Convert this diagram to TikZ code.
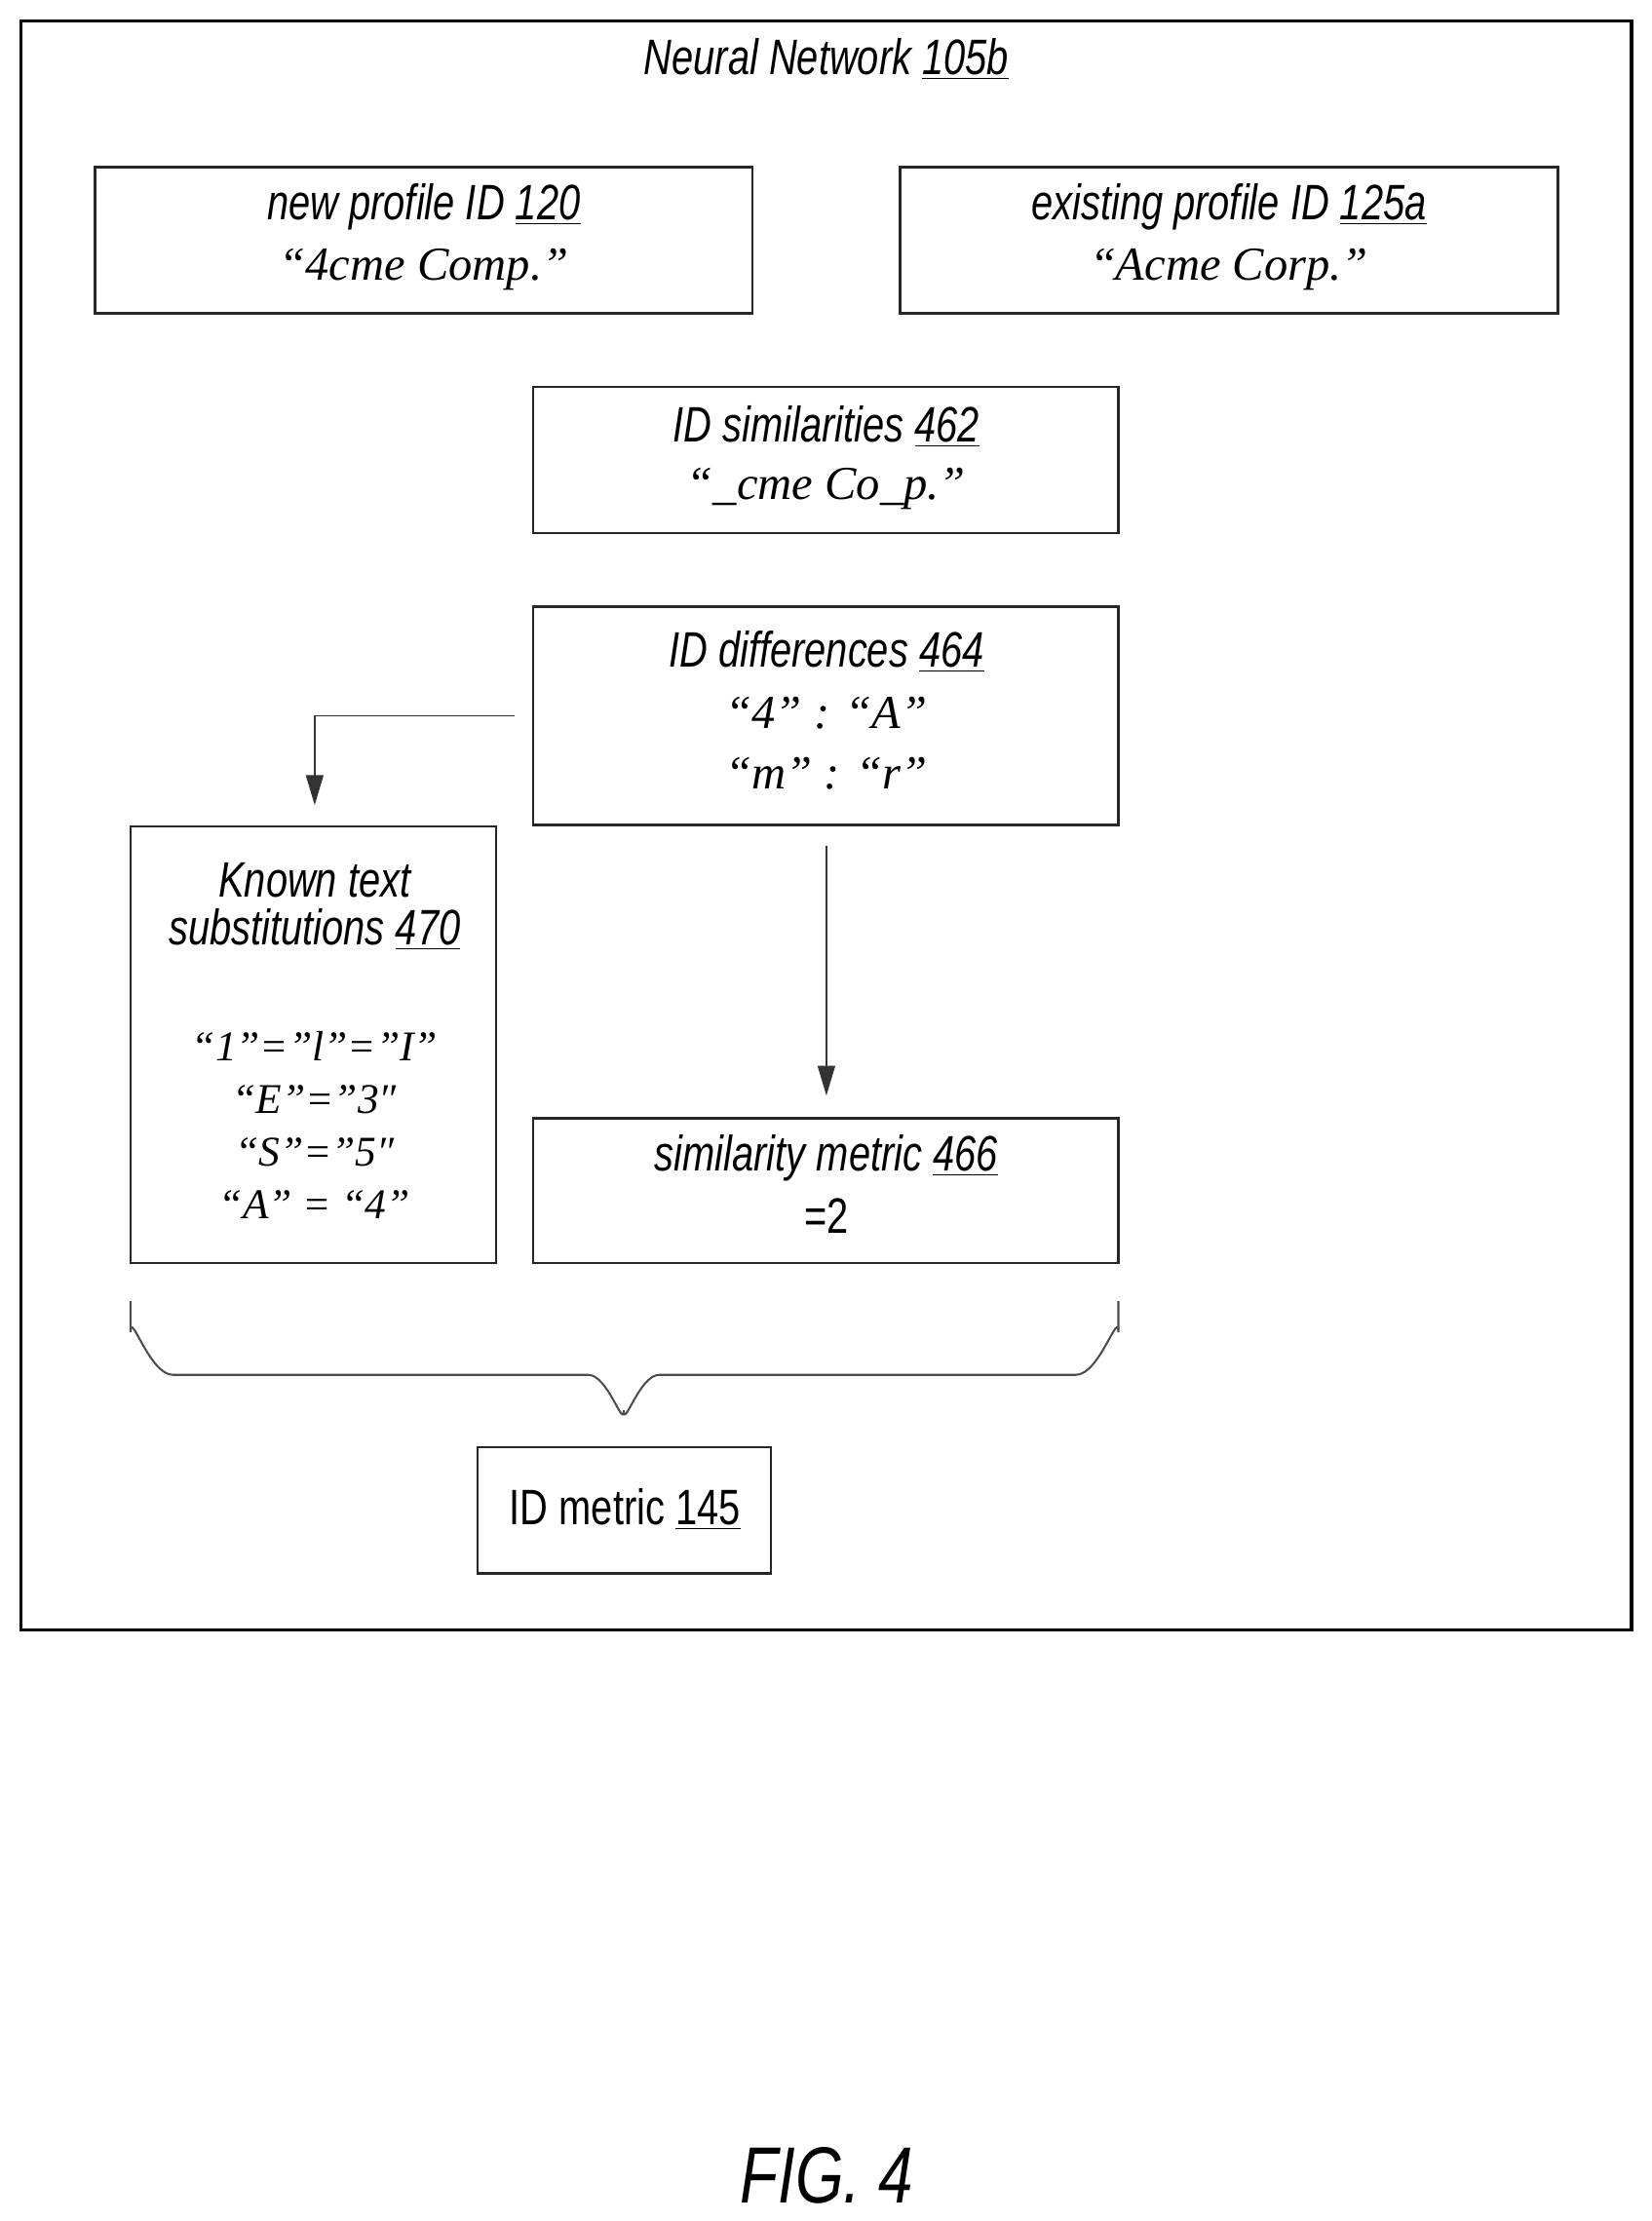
\documentclass[tikz,border=0pt]{standalone}
\usepackage{fontspec}
\setmainfont{Liberation Serif}
\newfontfamily\nar[FakeStretch=0.78]{Liberation Sans}
\usetikzlibrary{arrows.meta}
\begin{document}
\begin{tikzpicture}[x=0.02cm,y=-0.02cm,
  box/.style={draw=black!85,line width=0.9pt},
  lab/.style={font=\nar\fontsize{20}{24}\selectfont\itshape,align=center},
  ser/.style={font=\fontsize{19}{22}\selectfont\itshape,align=center},
  sub/.style={font=\fontsize{17}{20}\selectfont\itshape,align=center},
  arr/.style={draw=black!80,line width=0.7pt,-{Triangle[length=12pt,width=7pt]}}]
\useasboundingbox (0,0) rectangle (1165,1567);
\draw[line width=1.3pt] (15,15) rectangle (1151,1150);
\node[lab] (title) at (583,42) {Neural Network \underline{105b}};
\draw[box] (67,118) rectangle (531,221);
\node[lab] (n1) at (299,146) {new profile ID \underline{120}};
\node[ser] (n1b) at (299,190) {“4cme Comp.”};
\draw[box] (635,118) rectangle (1099,221);
\node[lab] (n2) at (867,146) {existing profile ID \underline{125a}};
\node[ser] (n2b) at (867,190) {“Acme Corp.”};
\draw[box] (376,273) rectangle (789,376);
\node[lab] (s1) at (583,301) {ID similarities \underline{462}};
\node[ser] (s2) at (583,345) {“\_cme Co\_p.”};
\draw[box] (376,428) rectangle (789,582);
\node[lab] (d1) at (583,460) {ID differences \underline{464}};
\node[ser] (d2) at (583,503) {“4” : “A”};
\node[ser] (d3) at (583,546) {“m” : “r”};
\draw[box] (92,583) rectangle (350,891);
\node[lab] (k1) at (222,621) {Known text};
\node[lab] (k2) at (222,656) {substitutions \underline{470}};
\node[sub] (k3) at (222,738) {“1”=”l”=”I”};
\node[sub] (k4) at (222,776) {“E”=”3″};
\node[sub] (k5) at (222,813) {“S”=”5″};
\node[sub] (k6) at (222,850) {“A” = “4”};
\draw[box] (376,789) rectangle (789,891);
\node[lab] (m1) at (583,817) {similarity metric \underline{466}};
\node[lab,font=\nar\fontsize{20}{24}\selectfont] (m2) at (583,858) {=2};
\draw[box] (337,1021) rectangle (544,1110);
\node[lab,font=\nar\fontsize{20}{24}\selectfont] (idm) at (441,1065) {ID metric \underline{145}};
\coordinate (a0) at (363,505);
\coordinate (a1) at (222,505);
\coordinate (a2) at (222,568);
\draw[arr] (a0) -- (a1) -- (a2);
\coordinate (b0) at (583,597);
\coordinate (b1) at (583,773);
\draw[arr] (b0) -- (b1);
\draw[black!70,line width=0.8pt] (92,918) -- (92,940) to[out=90,in=180] (122,970) -- (415,970) to[out=0,in=-90] (440,995)
  to[out=-90,in=180] (465,970) -- (759,970) to[out=0,in=90] (789,940) -- (789,918);
\node[font=\nar\fontsize{32}{36}\selectfont\itshape] (fig) at (583,1535) {FIG. 4};
\end{tikzpicture}
\end{document}
